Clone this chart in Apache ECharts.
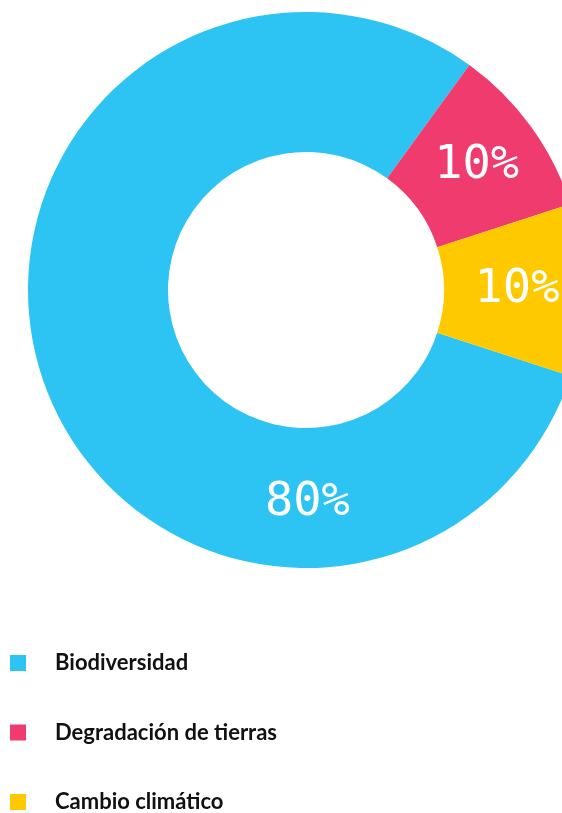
<!DOCTYPE html>
<html>
<head>
<meta charset="utf-8">
<script src="https://cdn.jsdelivr.net/npm/echarts@6/dist/echarts.min.js"></script>
<style>
  html, body { margin: 0; padding: 0; background: #fff; }
  #chart { width: 562px; height: 813px; }
</style>
</head>
<body>
<div id="chart"></div>
<script>
// reparto por tema
var chart = echarts.init(document.getElementById("chart"));

var temas = ['Biodiversidad', 'Degradación de tierras', 'Cambio climático'];
var porcentajes = [80, 10, 10];
var colores = ['#2DC4F3', '#EF3B6E', '#FFC900'];

var pieData = temas.map(function (t, i) {
    var item = {
        name: t,
        value: porcentajes[i],
        itemStyle: { color: colores[i] }
    };
    // la etiqueta del 80% va abajo, no en el centro del sector
    if (i === 0) {
        item.label = { offset: [202, 148] };
    }
    return item;
});

var option = {
    backgroundColor: '#ffffff',
    animation: false,
    legend: {
        orient: 'vertical',
        left: 5,
        top: 647,
        height: 200,
        itemWidth: 16,
        itemHeight: 16,
        itemGap: 47.5,
        icon: 'rect',
        selectedMode: false,
        data: temas,
        textStyle: {
            color: '#111',
            fontFamily: 'Lato',
            fontWeight: 'bold',
            fontSize: 22,
            padding: [0, 0, 0, 24]
        }
    },
    series: [
        {
            type: 'pie',
            center: [306, 290],
            radius: [138, 278],
            startAngle: -18,
            clockwise: true,
            silent: true,
            emphasis: { disabled: true },
            label: {
                show: true,
                position: 'inside',
                formatter: '{c}%',
                color: '#ffffff',
                fontFamily: 'DejaVu Sans Mono',
                fontSize: 47,
                fontWeight: 'normal'
            },
            labelLine: { show: false },
            data: pieData
        }
    ]
};

chart.setOption(option);
window.addEventListener("resize", function () {
    chart.resize();
});
</script>
</body>
</html>
